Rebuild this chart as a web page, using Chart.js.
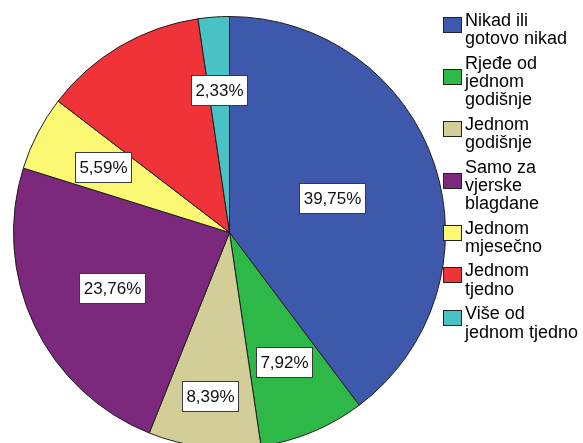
<!DOCTYPE html>
<html>
<head>
<meta charset="utf-8">
<script src="https://cdn.jsdelivr.net/npm/chart.js@4.4.1/dist/chart.umd.min.js"></script>
<style>
  html, body { margin: 0; padding: 0; background: #fff; overflow: hidden; }
  #wrap { width: 583px; height: 470px; }
</style>
</head>
<body>
<div id="wrap"><canvas id="c" width="583" height="470"></canvas></div>
<script>
// ---- data ----
const categories = [
  ["Nikad ili", "gotovo nikad"],
  ["Rjeđe od", "jednom", "godišnje"],
  ["Jednom", "godišnje"],
  ["Samo za", "vjerske", "blagdane"],
  ["Jednom", "mjesečno"],
  ["Jednom", "tjedno"],
  ["Više od", "jednom tjedno"]
];
const percents = [39.75, 7.92, 8.39, 23.76, 5.59, 12.26, 2.33];
const showLabel = [true, true, true, true, true, false, true];
const colors = ["#3e58ac", "#2eb848", "#d3ce97", "#7c287d", "#fbf873", "#ef3338", "#48c2c5"];

// ---- styling ----
const labelRadiusFrac = [0.50, 0.65, 0.76, 0.60, 0.66, 0.66, 0.66];
const FONT = '"Liberation Sans", Arial, sans-serif';

function fmt(v) { return v.toFixed(2).replace('.', ',') + '%'; }

const sliceLabels = {
  id: 'sliceLabels',
  afterDatasetsDraw(chart) {
    const ctx = chart.ctx;
    const meta = chart.getDatasetMeta(0);
    ctx.save();
    ctx.font = '17px ' + FONT;
    ctx.textAlign = 'center';
    ctx.textBaseline = 'middle';
    meta.data.forEach((arc, i) => {
      if (!showLabel[i]) return;
      const p = arc.getProps(['x', 'y', 'startAngle', 'endAngle', 'outerRadius'], true);
      const mid = (p.startAngle + p.endAngle) / 2;
      const r = p.outerRadius * labelRadiusFrac[i];
      const x = p.x + Math.cos(mid) * r;
      const y = p.y + Math.sin(mid) * r;
      const txt = fmt(chart.data.datasets[0].data[i]);
      const w = Math.round(ctx.measureText(txt).width + 8);
      const h = 30;
      const bx = Math.round(x - w / 2) + 0.5;
      const by = Math.round(y - h / 2) + 0.5;
      ctx.fillStyle = '#ffffff';
      ctx.fillRect(bx, by, w, h);
      ctx.strokeStyle = '#3a3a3a';
      ctx.lineWidth = 1;
      ctx.strokeRect(bx, by, w, h);
      ctx.fillStyle = '#111';
      ctx.fillText(txt, bx + w / 2, by + h / 2 + 1);
    });
    ctx.restore();
  }
};

const sideLegend = {
  id: 'sideLegend',
  afterDraw(chart) {
    const ctx = chart.ctx;
    const labels = chart.data.labels;
    const bg = chart.data.datasets[0].backgroundColor;
    const lineH = 18.33, gap = 6.1;
    let b1 = 26;
    ctx.save();
    ctx.font = '18px ' + FONT;
    ctx.textAlign = 'left';
    ctx.textBaseline = 'alphabetic';
    labels.forEach((lines, i) => {
      const n = lines.length;
      const cy = b1 - 20 + n * 9.17;
      const sx = 443.5, sw = 18, sh = 15;
      const sy = Math.round(cy - sh / 2) + 0.5;
      ctx.fillStyle = bg[i];
      ctx.fillRect(sx, sy, sw, sh);
      ctx.strokeStyle = '#222';
      ctx.lineWidth = 1;
      ctx.strokeRect(sx, sy, sw, sh);
      ctx.fillStyle = '#000';
      lines.forEach((t, k) => ctx.fillText(t, 465, b1 + k * lineH));
      b1 += n * lineH + gap;
    });
    ctx.restore();
  }
};

new Chart(document.getElementById('c'), {
  type: 'pie',
  data: {
    labels: categories,
    datasets: [{
      data: percents,
      backgroundColor: colors,
      borderColor: '#1e1e1e',
      borderWidth: 1
    }]
  },
  options: {
    responsive: false,
    animation: false,
    events: [],
    layout: { padding: { left: 13, right: 137, top: 16, bottom: 21 } },
    plugins: {
      legend: { display: false },
      tooltip: { enabled: false }
    }
  },
  plugins: [sliceLabels, sideLegend]
});
</script>
</body>
</html>
